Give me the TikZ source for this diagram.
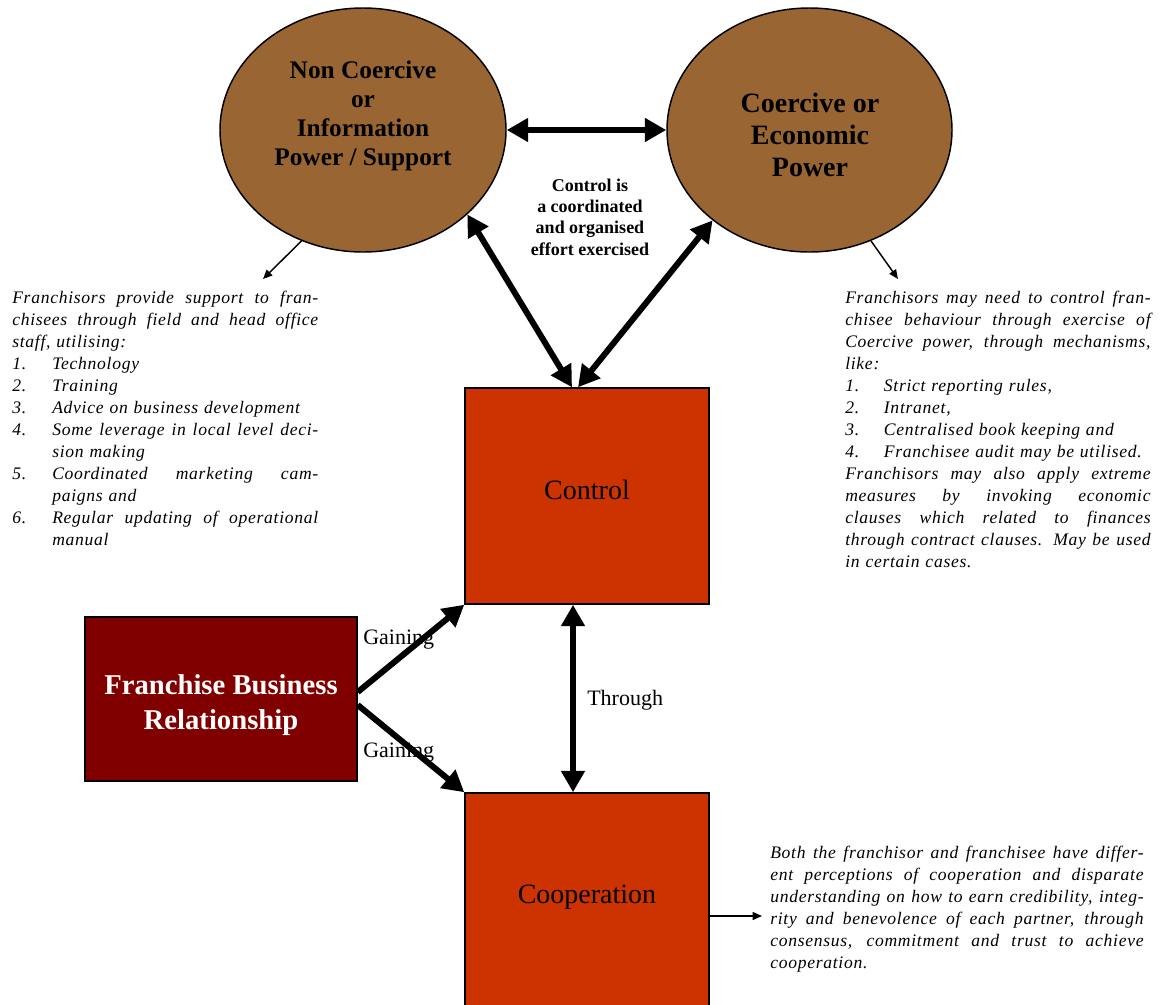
\documentclass[tikz,border=0pt]{standalone}
\usepackage{fontspec}
\setmainfont{Liberation Serif}
\newfontfamily\descfont[LetterSpace=4]{Liberation Serif}
\usetikzlibrary{shapes.geometric,arrows.meta,calc}

\definecolor{powerbrown}{HTML}{996633}
\definecolor{boxred}{HTML}{CC3300}
\definecolor{fbrmaroon}{HTML}{800000}

% helpers for the justified note paragraphs
\newlength\colw
\newlength\numw
\newcommand\fullline[1]{\makebox[\colw][s]{\spaceskip=0pt\xspaceskip=0pt #1}}
\newcommand\numline[2]{\makebox[\numw][l]{#1}#2}
\newcommand\numfull[2]{\makebox[\numw][l]{#1}\makebox[\dimexpr\colw-\numw\relax][s]{\spaceskip=0pt\xspaceskip=0pt #2}}
\newcommand\contline[1]{\hspace*{\numw}#1}

\begin{document}
\begin{tikzpicture}[x=0.75pt,y=-0.75pt,
  power/.style={ellipse,draw=black,line width=1.1pt,fill=powerbrown,inner sep=0pt},
  redbox/.style={rectangle,draw=black,line width=1.1pt,fill=boxred,
    minimum width=183pt,minimum height=162pt},
  heavy/.style={line width=4.5pt,
    {Triangle[length=16pt,width=17pt]}-{Triangle[length=16pt,width=17pt]}},
  heavyone/.style={line width=4.5pt,-{Triangle[length=16pt,width=17pt]}},
  pointer/.style={line width=1.1pt,-{Triangle[length=7pt,width=6pt]}},
  note/.style={inner sep=0pt,text width=#1,align=left,anchor=north west,
    font=\descfont\itshape\fontsize{13.2}{16.5}\selectfont},
  plainlabel/.style={inner sep=0pt,anchor=west,font=\fontsize{16.5}{19}\selectfont},
]
\useasboundingbox (0,0) rectangle (1162,1004);
\clip (0,0) rectangle (1162,1004);

% power ellipses
\node[power,minimum width=214.5pt,minimum height=183pt] (nc) at (363,130) {};
\node[power,minimum width=213.75pt,minimum height=183pt] (ce) at (809.5,130) {};
\node[font=\bfseries\fontsize{19}{21.75}\selectfont,align=center] (nctext) at (363,116)
  {Non Coercive\\or\\Information\\Power / Support};
\node[font=\bfseries\fontsize{21}{24}\selectfont,align=center] (cetext) at (810,135)
  {Coercive or\\Economic\\Power};

% central statement
\node[font=\bfseries\fontsize{13.5}{16}\selectfont,align=center] (ctrlnote) at (590,217)
  {Control is\\a coordinated\\and organised\\effort exercised};

% boxes
\node[redbox] (ctrl) at (587,496) {};
\node[redbox,minimum height=162pt] (coop) at (587,901) {};
\node[rectangle,draw=black,line width=1.1pt,fill=fbrmaroon,
  minimum width=204pt,minimum height=123pt] (fbr) at (221,699) {};
\node[font=\fontsize{21}{25}\selectfont] (ctrltext) at (587,490) {Control};
\node[font=\fontsize{21}{25}\selectfont] (cooptext) at (587,897) {Cooperation};
\node[font=\bfseries\fontsize{21.5}{26}\selectfont,text=white,align=center] (fbrtext)
  at (221,705) {Franchise Business\\Relationship};

% connector labels
\node[plainlabel] (gainup) at (363,640) {Gaining};
\node[plainlabel] (gaindown) at (363,753) {Gaining};
\node[plainlabel] (through) at (587,700) {Through};

% heavy connectors
\draw[heavy] (nc.east) -- (ce.west);
\draw[heavy] ($(ctrl.north)+(-15,0)$) -- (nc.-39);
\draw[heavy] ($(ctrl.north)+(-9,0)$) -- (ce.223);
\draw[heavy] ($(ctrl.south)+(-14,0)$) -- ($(coop.north)+(-14,0)$);
\draw[heavyone] ($(fbr.east)+(0,-7)$) -- (ctrl.south west);
\draw[heavyone] ($(fbr.east)+(0,6)$) -- (coop.north west);

% pointers to the notes
\coordinate (ncend) at (263,279);
\coordinate (ceend) at (898,279);
\coordinate (coopend) at (762,916);
\draw[pointer] (nc.241) -- (ncend);
\draw[pointer] (ce.299) -- (ceend);
\draw[pointer] ($(coop.east)+(0,15)$) -- (coopend);

% notes
\node[note=229.5pt] (leftnote) at (12,291) {%
\setlength\colw{229.5pt}\setlength\numw{30pt}%
\fullline{Franchisors provide support to fran-}\\
\fullline{chisees through field and head office}\\
staff, utilising:\\
\numline{1.}{Technology}\\
\numline{2.}{Training}\\
\numline{3.}{Advice on business development}\\
\numfull{4.}{Some leverage in local level deci-}\\
\contline{sion making}\\
\numfull{5.}{Coordinated marketing cam-}\\
\contline{paigns and}\\
\numfull{6.}{Regular updating of operational}\\
\contline{manual}};

\node[note=229pt] (rightnote) at (845,291) {%
\setlength\colw{229pt}\setlength\numw{29pt}%
\fullline{Franchisors may need to control fran-}\\
\fullline{chisee behaviour through exercise of}\\
\fullline{Coercive power, through mechanisms,}\\
like:\\
\numline{1.}{Strict reporting rules,}\\
\numline{2.}{Intranet,}\\
\numline{3.}{Centralised book keeping and}\\
\numline{4.}{Franchisee audit may be utilised.}\\
\fullline{Franchisors may also apply extreme}\\
\fullline{measures by invoking economic}\\
\fullline{clauses which related to finances}\\
\fullline{through contract clauses. May be used}\\
in certain cases.};

\node[note=280pt] (coopnote) at (770,846) {%
\setlength\colw{280pt}%
\fullline{Both the franchisor and franchisee have differ-}\\
\fullline{ent perceptions of cooperation and disparate}\\
\fullline{understanding on how to earn credibility, integ-}\\
\fullline{rity and benevolence of each partner, through}\\
\fullline{consensus, commitment and trust to achieve}\\
cooperation.};
\end{tikzpicture}
\end{document}
